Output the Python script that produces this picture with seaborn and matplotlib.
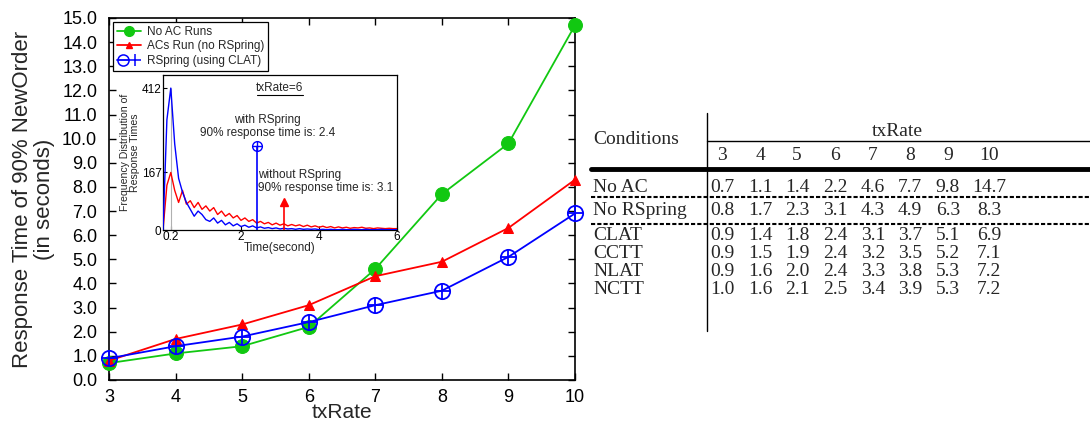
import numpy as np
import pandas as pd
import matplotlib
matplotlib.use("Agg")
import matplotlib.pyplot as plt
import seaborn as sns
from matplotlib.lines import Line2D
from matplotlib.legend_handler import HandlerTuple

# ---------------- data ----------------
tx_rates = [3, 4, 5, 6, 7, 8, 9, 10]
no_ac = [0.7, 1.1, 1.4, 2.2, 4.6, 7.7, 9.8, 14.7]
no_rspring = [0.8, 1.7, 2.3, 3.1, 4.3, 4.9, 6.3, 8.3]
clat = [0.9, 1.4, 1.8, 2.4, 3.1, 3.7, 5.1, 6.9]
cctt = [0.9, 1.5, 1.9, 2.4, 3.2, 3.5, 5.2, 7.1]
nlat = [0.9, 1.6, 2.0, 2.4, 3.3, 3.8, 5.3, 7.2]
nctt = [1.0, 1.6, 2.1, 2.5, 3.4, 3.9, 5.3, 7.2]

series_labels = ["No AC Runs", "ACs Run (no RSpring)", "RSpring (using CLAT)"]
table_conditions = ["No AC", "No RSpring", "CLAT", "CCTT", "NLAT", "NCTT"]
table_values = [no_ac, no_rspring, clat, cctt, nlat, nctt]

# inset: frequency distribution of response times at txRate=6
inset_time = [0.0, 0.1, 0.2, 0.3, 0.4, 0.5, 0.6, 0.7, 0.8, 0.9,
              1.0, 1.1, 1.2, 1.3, 1.4, 1.5, 1.6, 1.7, 1.8, 1.9,
              2.0, 2.1, 2.2, 2.3, 2.4, 2.5, 2.6, 2.7, 2.8, 2.9,
              3.0, 3.1, 3.2, 3.3, 3.4, 3.5, 3.6, 3.7, 3.8, 3.9,
              4.0, 4.1, 4.2, 4.3, 4.4, 4.5, 4.6, 4.7, 4.8, 4.9,
              5.0, 5.1, 5.2, 5.3, 5.4, 5.5, 5.6, 5.7, 5.8, 5.9, 6.0]
freq_with = [0, 320, 412, 250, 150, 110, 80, 60, 40, 55,
             45, 30, 25, 35, 20, 28, 15, 22, 12, 18,
             10, 14, 8, 12, 6, 9, 5, 7, 4, 6,
             3, 5, 3, 4, 2, 4, 2, 3, 2, 3,
             1, 2, 1, 2, 1, 1, 2, 1, 1, 2,
             1, 1, 2, 1, 1, 1, 2, 1, 1, 1, 1]
freq_without = [0, 130, 167, 115, 80, 115, 75, 85, 65, 80,
                60, 70, 55, 65, 45, 55, 40, 48, 35, 42,
                28, 35, 25, 30, 20, 25, 18, 22, 15, 20,
                14, 18, 12, 16, 12, 15, 10, 14, 9, 12,
                8, 11, 7, 10, 6, 9, 6, 8, 5, 7,
                6, 8, 5, 6, 4, 6, 5, 4, 5, 4, 4]
p90_with = 2.4
p90_without = 3.1
marker_height_with = 244
marker_height_without = 82
inset_yticks = [0, 167, 412]
inset_xticks = [0.2, 2, 4, 6]

# ---------------- style ----------------
sns.set_theme(style="ticks")
plt.rcParams["font.family"] = ["Liberation Sans", "DejaVu Sans"]
plt.rcParams["axes.linewidth"] = 1.0

GREEN = "#11c811"
RED = "#ff0000"
BLUE = "#0000ff"

fig = plt.figure(figsize=(10.9, 4.29), dpi=100)
W, H = 1090, 429

def px_axes(l, t, r, b):
    return [l / W, 1 - b / H, (r - l) / W, (b - t) / H]

ax = fig.add_axes(px_axes(109, 18, 575, 380))

df = pd.DataFrame({"txRate": tx_rates, "noac": no_ac, "nors": no_rspring, "clat": clat})
sns.lineplot(data=df, x="txRate", y="noac", ax=ax, color=GREEN, lw=1.3,
             marker="o", markersize=10, markeredgecolor=GREEN, clip_on=False, zorder=3)
sns.lineplot(data=df, x="txRate", y="nors", ax=ax, color=RED, lw=1.3,
             marker="^", markersize=6.5, markeredgecolor=RED, clip_on=False, zorder=4)
sns.lineplot(data=df, x="txRate", y="clat", ax=ax, color=BLUE, lw=1.3,
             marker="o", markersize=11, markerfacecolor="none", markeredgecolor=BLUE,
             markeredgewidth=1.3, clip_on=False, zorder=5)
ax.plot(df["txRate"], df["clat"], ls="none", marker="+", markersize=11,
        markeredgecolor=BLUE, markeredgewidth=1.3, clip_on=False, zorder=6)

ax.set_xlim(3, 10)
ax.set_ylim(0, 15)
ax.set_xticks(tx_rates)
ax.set_yticks(np.arange(0, 15.5, 1.0))
ax.set_yticklabels([f"{v:.1f}" for v in np.arange(0, 15.5, 1.0)])
ax.tick_params(direction="in", length=5, width=1, top=True, right=True,
               labelsize=13, colors="black")
ax.tick_params(axis="y", pad=8.5)
ax.tick_params(axis="x", pad=6.5)
for s in ax.spines.values():
    s.set_visible(True)
    s.set_color("black")
    s.set_linewidth(1.2)
ax.set_xlabel("txRate", fontsize=15, labelpad=-2.5)
ax.set_ylabel("Response Time of 90% NewOrder\n(in seconds)", fontsize=16, labelpad=5,
              linespacing=1.1)

h_green = Line2D([], [], color=GREEN, lw=1.3, marker="o", markersize=7)
h_red = Line2D([], [], color=RED, lw=1.3, marker="^", markersize=5)
h_blue_o = Line2D([], [], color=BLUE, lw=1.3, marker="o", markersize=8,
                  markerfacecolor="none", markeredgewidth=1.1)
h_blue_p = Line2D([], [], color=BLUE, lw=0, marker="+", markersize=8, markeredgewidth=1.1)
leg = ax.legend([h_green, h_red, (h_blue_o, h_blue_p)], series_labels,
                handler_map={tuple: HandlerTuple(ndivide=None, pad=0)},
                loc="upper left", bbox_to_anchor=(0.009, 0.989), borderaxespad=0,
                fontsize=8.5, frameon=True, fancybox=False, framealpha=1,
                edgecolor="black", handlelength=2.0, handletextpad=0.5,
                borderpad=0.35, labelspacing=0.2)
leg.get_frame().set_linewidth(0.9)

# ---------------- inset ----------------
axi = fig.add_axes(px_axes(163, 75, 397, 230))
axi.set_facecolor("white")
idf = pd.DataFrame({"t": inset_time, "with": freq_with, "without": freq_without})
peak_i = int(np.argmax(freq_with))
axi.vlines(inset_time[peak_i], 0, freq_with[peak_i], color="#b0b0b0", lw=0.8, zorder=1)
sns.lineplot(data=idf, x="t", y="without", ax=axi, color=RED, lw=1.0, zorder=2)
sns.lineplot(data=idf, x="t", y="with", ax=axi, color=BLUE, lw=1.0, zorder=3)
axi.vlines(p90_with, 0, marker_height_with, color=BLUE, lw=1.2, zorder=4)
axi.plot([p90_with], [marker_height_with], marker="o", markersize=7, mfc="none",
         mec=BLUE, mew=1.0, zorder=5)
axi.plot([p90_with], [marker_height_with], marker="+", markersize=7, mec=BLUE,
         mew=1.0, zorder=5)
axi.vlines(p90_without, 0, marker_height_without, color=RED, lw=1.2, zorder=4)
axi.plot([p90_without], [marker_height_without], marker="^", markersize=6,
         color=RED, zorder=5)
axi.set_xlim(0, 6)
axi.set_ylim(0, 450)
axi.set_xticks(inset_xticks)
axi.set_xticklabels(["0.2", "2", "4", "6"])
axi.set_yticks(inset_yticks)
axi.tick_params(direction="in", length=3, width=0.8, labelsize=8.5, pad=1, colors="black")
for s in axi.spines.values():
    s.set_visible(True)
    s.set_color("black")
    s.set_linewidth(0.9)
axi.set_xlabel("Time(second)", fontsize=8.5, labelpad=-1)
axi.set_ylabel("Frequency Distribution of\nResponse Times", fontsize=7.6,
               labelpad=1.5, linespacing=1.0)
axi.text(3.0, 412, "txRate=6", fontsize=8.5, ha="center", va="center")
axi.plot([2.4, 3.58], [392, 392], color="black", lw=0.8)
axi.text(2.67, 300, "with RSpring\n90% response time is: 2.4", fontsize=8.5,
         ha="center", va="center", linespacing=1.1)
axi.text(2.44, 140, "without RSpring\n90% response time is: 3.1", fontsize=8.5,
         ha="left", va="center", linespacing=1.1)

# ---------------- table ----------------
axt = fig.add_axes([0, 0, 1, 1], zorder=10)
axt.set_xlim(0, W)
axt.set_ylim(H, 0)
axt.axis("off")
axt.patch.set_alpha(0)
serif = ["Liberation Serif", "DejaVu Serif"]
fs = 14
col_x = [722, 760, 797, 835, 873, 910, 948, 989]
row_base = [191.5, 215, 239.5, 257.5, 276, 294]
axt.text(593, 144, "Conditions", family=serif, fontsize=fs, ha="left", va="baseline")
axt.text(897, 136.5, "txRate", family=serif, fontsize=fs, ha="center", va="baseline")
for cx, r in zip(col_x, tx_rates):
    axt.text(cx, 160, str(r), family=serif, fontsize=fs, ha="center", va="baseline")
for ry, name, vals in zip(row_base, table_conditions, table_values):
    axt.text(593, ry, name, family=serif, fontsize=fs, ha="left", va="baseline")
    for cx, v in zip(col_x, vals):
        axt.text(cx, ry, f"{v:.1f}", family=serif, fontsize=fs, ha="center", va="baseline")
axt.plot([707, 707], [113, 331], color="black", lw=1.0)
axt.plot([707, 1090], [141, 141], color="black", lw=1.0)
axt.plot([591, 1090], [169, 169], color="black", lw=3.5)
axt.plot([591, 1090], [197, 197], color="black", lw=1.5, ls=(0, (2, 1)))
axt.plot([591, 1090], [224, 224], color="black", lw=1.5, ls=(0, (2, 1)))

fig.savefig("out.png", dpi=100)
